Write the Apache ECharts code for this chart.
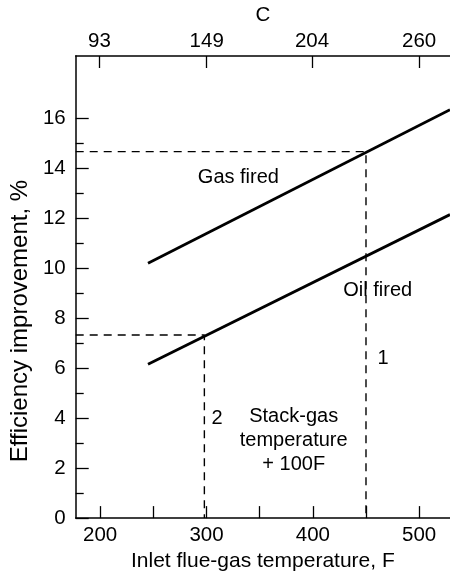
<!DOCTYPE html>
<html>
<head>
<meta charset="utf-8">
<script src="https://cdn.jsdelivr.net/npm/echarts@6/dist/echarts.min.js"></script>
<style>html,body{margin:0;padding:0;background:#fff}#c{width:450px;height:577px}</style>
</head>
<body>
<div id="c"></div>
<script>
// ---- data ----
var tempF = [245, 529];
var gasFired = [10.2, 16.35];
var oilFired = [6.16, 12.15];
var refTempF = [298, 450];       // dashed guide 2, guide 1
var refEff = [7.33, 14.67];
var xTicksF = [200, 250, 300, 350, 400, 450, 500];
var xLabelsF = [200, 300, 400, 500];
var topLabelsC = [93, 149, 204, 260];
var yMajor = [0, 2, 4, 6, 8, 10, 12, 14, 16];
var yMinor = [1, 3, 5, 7, 9, 11, 13, 15];
var notes = [
  {text: 'Gas fired', x: 330, y: 13.65},
  {text: 'Oil fired', x: 461, y: 9.1},
  {text: '1', x: 466, y: 6.4},
  {text: '2', x: 310, y: 4.0},
  {text: 'Stack-gas\ntemperature\n+ 100F', x: 382, y: 3.1}
];

var FONT = '"Liberation Sans", Arial, Helvetica, sans-serif';
var FS = 20.5;
var X_MIN = 177, X_MAX = 529, Y_MIN = 0, Y_MAX = 18.5;
var topTicksF = topLabelsC.map(function (c) { return c * 9 / 5 + 32; });

function pairs(xs, ys) { return xs.map(function (x, i) { return [x, ys[i]]; }); }

var chart = echarts.init(document.getElementById('c'), null, {renderer: 'canvas'});
var lineStyleSolid = {color: '#000', width: 2.8};
var dashStyle = {color: '#000', width: 1.4, type: [8, 6]};

var option = {
  backgroundColor: '#fff',
  animation: false,
  textStyle: {fontFamily: FONT, color: '#000'},
  grid: {left: 73, right: 0, top: 54, bottom: 52, containLabel: false},
  xAxis: [{
    type: 'value', position: 'bottom', min: X_MIN, max: X_MAX,
    name: 'Inlet flue-gas temperature, F', nameLocation: 'middle', nameGap: 27,
    nameTextStyle: {fontSize: 21, color: '#000', fontFamily: FONT},
    axisLine: {show: true, onZero: false, lineStyle: {color: '#000', width: 1.5}},
    axisTick: {show: true, inside: true, length: 12, customValues: xTicksF, lineStyle: {color: '#000', width: 1.3}},
    axisLabel: {show: true, customValues: xLabelsF, fontSize: FS, color: '#000', fontFamily: FONT, margin: 7},
    splitLine: {show: false}
  }, {
    type: 'value', position: 'top', min: X_MIN, max: X_MAX,
    name: 'C', nameLocation: 'middle', nameGap: 30,
    nameTextStyle: {fontSize: FS, color: '#000', fontFamily: FONT},
    axisLine: {show: true, onZero: false, lineStyle: {color: '#000', width: 1.5}},
    axisTick: {show: true, inside: true, length: 12, customValues: topTicksF, lineStyle: {color: '#000', width: 1.3}},
    axisLabel: {show: true, customValues: topTicksF, fontSize: FS, color: '#000', fontFamily: FONT, margin: 4,
      formatter: function (v) { return String(Math.round((v - 32) * 5 / 9)); }},
    splitLine: {show: false}
  }],
  yAxis: [{
    type: 'value', position: 'left', min: Y_MIN, max: Y_MAX,
    name: 'Efficiency improvement, %', nameLocation: 'middle', nameGap: 38,
    nameTextStyle: {fontSize: 24, color: '#000', fontFamily: FONT, padding: [0, 68, 0, 0]},
    axisLine: {show: true, onZero: false, lineStyle: {color: '#000', width: 1.5}},
    axisTick: {show: true, inside: true, length: 13, customValues: yMajor, lineStyle: {color: '#000', width: 1.3}},
    axisLabel: {show: true, customValues: yMajor, fontSize: FS, color: '#000', fontFamily: FONT, margin: 10},
    splitLine: {show: false}
  }, {
    type: 'value', position: 'left', min: Y_MIN, max: Y_MAX,
    axisLine: {show: false},
    axisTick: {show: true, inside: true, length: 8, customValues: yMinor, lineStyle: {color: '#000', width: 1.3}},
    axisLabel: {show: false},
    splitLine: {show: false}
  }],
  series: [{
    type: 'line', name: 'Gas fired', data: pairs(tempF, gasFired), showSymbol: false, symbol: 'none',
    lineStyle: lineStyleSolid, silent: true
  }, {
    type: 'line', name: 'Oil fired', data: pairs(tempF, oilFired), showSymbol: false, symbol: 'none',
    lineStyle: lineStyleSolid, silent: true
  }, {
    type: 'line', name: 'guide1', data: [[X_MIN, refEff[1]], [refTempF[1], refEff[1]], [refTempF[1], Y_MIN]],
    showSymbol: false, symbol: 'none', lineStyle: dashStyle, silent: true
  }, {
    type: 'line', name: 'guide2', data: [[X_MIN, refEff[0]], [refTempF[0], refEff[0]], [refTempF[0], Y_MIN]],
    showSymbol: false, symbol: 'none', lineStyle: dashStyle, silent: true
  }, {
    type: 'scatter', name: 'notes', symbolSize: 0, silent: true,
    itemStyle: {opacity: 1, color: '#000'},
    data: notes.map(function (n) { return {value: [n.x, n.y], name: n.text}; }),
    label: {show: true, position: 'inside', formatter: function (p) { return p.name; }, opacity: 1,
      fontSize: 20, color: '#000', fontFamily: FONT, lineHeight: 24, align: 'center', verticalAlign: 'middle'}
  }]
};
chart.setOption(option);
</script>
</body>
</html>
